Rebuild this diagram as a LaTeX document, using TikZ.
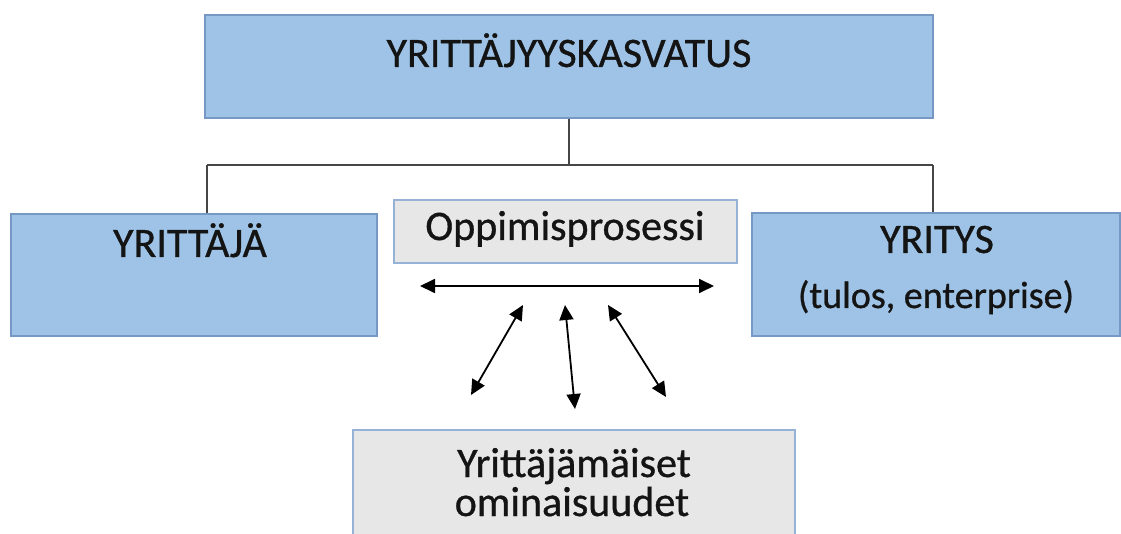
\documentclass[tikz,border=0pt]{standalone}
\usepackage{fontspec}
\setmainfont{Carlito}[FakeBold=0.8]
\usetikzlibrary{arrows.meta}
\definecolor{boxblue}{RGB}{158,195,230}
\definecolor{blueedge}{RGB}{118,152,196}
\definecolor{boxgrey}{RGB}{231,231,231}
\definecolor{greyedge}{RGB}{150,178,214}
\definecolor{linegrey}{RGB}{70,70,70}
\definecolor{textcol}{RGB}{20,20,20}
\tikzset{
  bluebox/.style={draw=blueedge, fill=boxblue, line width=1.2pt, inner sep=0pt},
  greybox/.style={draw=greyedge, fill=boxgrey, line width=1.2pt, inner sep=0pt},
  lbl/.style={font=\fontsize{42}{48}\selectfont, text=textcol, anchor=base, inner sep=0pt},
  tree/.style={draw=linegrey, line width=1.6pt},
  dbl/.style={draw=black, line width=1.8pt, {Triangle[width=14pt,length=15pt]}-{Triangle[width=14pt,length=15pt]}}
}
\begin{document}
\begin{tikzpicture}[x=1pt,y=-1pt]
\path[use as bounding box] (0,0) rectangle (1121,534);
\clip (0,0) rectangle (1121,534);
\node[bluebox, minimum width=728, minimum height=103] (top) at (569,66.5) {};
\node[lbl] (toplbl) at (569,67) {YRITTÄJYYSKASVATUS};
\node[bluebox, minimum width=366, minimum height=122] (left) at (194,275) {};
\node[lbl] (leftlbl) at (190,257) {YRITTÄJÄ};
\node[bluebox, minimum width=368, minimum height=123] (right) at (936,274.5) {};
\node[lbl] (rightlbl) at (937,253) {YRITYS};
\node[lbl, font=\fontsize{38}{44}\selectfont] (rightsub) at (936,308) {(tulos, enterprise)};
\node[greybox, minimum width=343, minimum height=63] (opp) at (565.5,231.5) {};
\node[lbl] (opplbl) at (565,240) {Oppimisprosessi};
\node[greybox, minimum width=442, minimum height=117] (bot) at (574,488.5) {};
\node[lbl, font=\fontsize{42}{38}\selectfont] (botl1) at (574,477) {Yrittäjämäiset};
\node[lbl, font=\fontsize{42}{38}\selectfont] (botl2) at (572,516) {ominaisuudet};
\coordinate (hm) at (569,165);
\coordinate (hl) at (207,165);
\coordinate (hr) at (933,165);
\draw[tree] (top.south) -- (hm);
\draw[tree] (hl) -- (hr);
\draw[tree] (hl) -- (left.north -| hl);
\draw[tree] (hr) -- (right.north -| hr);
\coordinate (ha) at (420,286);
\coordinate (hb) at (714,286);
\draw[dbl] (ha) -- (hb);
\coordinate (a1) at (523,305);
\coordinate (b1) at (471,395);
\coordinate (a2) at (565,305);
\coordinate (b2) at (575,409);
\coordinate (a3) at (608,305);
\coordinate (b3) at (666,397);
\draw[dbl] (a1) -- (b1);
\draw[dbl] (a2) -- (b2);
\draw[dbl] (a3) -- (b3);
\end{tikzpicture}
\end{document}
